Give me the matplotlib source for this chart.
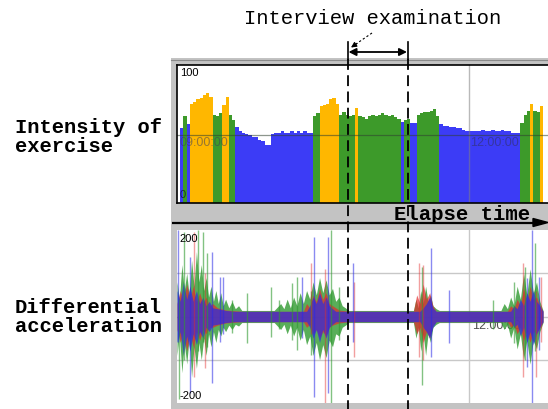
import numpy as np
import matplotlib
matplotlib.use('Agg')
from matplotlib import pyplot as plt
from matplotlib.patches import Rectangle, Polygon

W, H = 548, 409          # picture size in pixels
MONO = 'Liberation Mono'
SANS = 'Liberation Sans'
T_MAX = 230.3            # minutes shown, 0 = 09:00

# intensity of exercise, 2-minute bins from 09:00
BIN = 2
intensity = [0, 54, 63, 57, 72, 73, 75, 76, 78, 80, 77, 64, 63, 65, 71, 77, 64, 60,
             55, 52, 51, 50, 49, 48, 48, 46, 45, 42, 42, 50, 51, 51, 52, 51, 51, 52,
             51, 52, 51, 52, 51, 51, 63, 65, 70, 71, 72, 75, 76, 72, 64, 66, 64, 63,
             64, 69, 63, 62, 61, 63, 64, 63, 64, 65, 64, 63, 64, 62, 61, 59, 60, 61,
             58, 58, 64, 65, 66, 66, 67, 68, 63, 57, 56, 56, 55, 55, 54, 54, 53, 52,
             52, 52, 52, 52, 53, 52, 52, 53, 52, 52, 53, 52, 52, 51, 51, 51, 58, 64,
             67, 72, 67, 66, 70]
activity = ('bbgb' + 'y' * 7 + 'ggg' + 'yy' + 'gg' + 'b' * 24 + 'gg' + 'y' * 6 +
            'g' * 5 + 'y' + 'g' * 13 + 'b' + 'gg' + 'bb' + 'g' * 7 + 'b' * 25 +
            'ggg' + 'y' + 'gg' + 'y')
act_color = {'b': '#3c3cf6', 'g': '#3d9a2a', 'y': '#ffb700'}

# differential acceleration, outline of the dense part (minutes, upper, lower)
green_env_t = [0, 1.5, 3, 4.5, 6, 7.5, 9, 10.5, 12, 13.5, 15, 16.5, 18, 19.5, 21, 22.5,
               24, 25.5, 27, 28.5, 30, 32, 34, 36, 38, 40,
               60, 64, 66, 68, 70, 72, 74, 76, 78, 80, 82, 84, 86, 88, 90, 92, 94, 96,
               98, 100, 102, 104, 106,
               146, 147.5, 149, 150.5, 152, 153.5, 155, 156.5, 158, 160, 162,
               200, 202, 204, 206, 208, 210, 212, 214, 216, 218, 220, 222, 224, 226]
green_env_hi = [80, 40, 120, 60, 100, 50, 130, 70, 150, 80, 120, 60, 90, 45, 70, 35,
                60, 30, 55, 25, 40, 20, 35, 18, 25, 14,
                14, 30, 18, 40, 20, 45, 25, 55, 30, 60, 40, 80, 50, 90, 55, 85, 50, 65,
                35, 45, 25, 20, 14,
                14, 40, 20, 60, 30, 70, 35, 50, 25, 18, 14,
                14, 30, 18, 45, 25, 70, 40, 100, 50, 110, 55, 80, 35, 14]
green_env_lo = [-90, -40, -130, -60, -110, -50, -140, -70, -120, -60, -100, -50, -90,
                -40, -70, -35, -60, -30, -45, -25, -35, -20, -30, -18, -22, -14,
                -14, -30, -18, -40, -20, -45, -25, -55, -30, -65, -45, -90, -60, -100,
                -65, -95, -55, -70, -40, -45, -25, -20, -14,
                -14, -50, -25, -80, -40, -90, -40, -60, -25, -18, -14,
                -14, -30, -18, -50, -25, -75, -40, -100, -55, -110, -55, -75, -35, -14]
red_env_t = [0, 2, 4, 6, 8, 10, 12, 14, 16, 18, 20, 22, 25, 30, 40,
             78, 80, 82, 84, 86, 88, 90, 92, 94, 96, 100, 106,
             146, 148, 150, 152, 154, 156, 158, 160,
             204, 206, 208, 210, 212, 214, 216, 218, 220, 222, 224, 226]
red_env_hi = [30, 60, 35, 75, 40, 70, 35, 55, 30, 45, 25, 30, 20, 15, 12,
              12, 30, 20, 50, 35, 65, 40, 55, 30, 25, 15, 12,
              12, 50, 30, 75, 40, 55, 25, 12,
              12, 25, 18, 40, 25, 65, 35, 70, 40, 45, 25, 12]
red_env_lo = [-30, -60, -35, -80, -40, -70, -35, -55, -30, -40, -25, -25, -20, -15, -12,
              -12, -25, -18, -40, -30, -50, -35, -45, -25, -20, -15, -12,
              -12, -40, -25, -60, -35, -50, -20, -12,
              -12, -25, -18, -40, -25, -55, -35, -60, -35, -40, -25, -12]
blue_env_t = [0, 2, 4, 6, 8, 10, 12, 14, 16, 18, 20, 22, 25, 30, 36,
              80, 82, 84, 86, 88, 90, 92, 94, 96, 98,
              150, 152, 154, 156, 158, 160,
              206, 208, 210, 212, 214, 216, 218, 220, 222, 224, 226]
blue_env_hi = [60, 35, 80, 40, 70, 35, 60, 30, 45, 25, 35, 20, 18, 14, 12,
               12, 25, 45, 30, 55, 30, 45, 25, 18, 12,
               12, 20, 30, 45, 20, 12,
               12, 25, 18, 40, 25, 55, 35, 60, 35, 25, 12]
blue_env_lo = [-60, -35, -90, -45, -80, -40, -65, -35, -50, -25, -35, -20, -18, -14, -12,
               -12, -25, -50, -30, -60, -30, -50, -25, -18, -12,
               -12, -25, -35, -50, -25, -12,
               -12, -25, -18, -45, -25, -60, -35, -65, -40, -25, -12]

# single large spikes
green_spike_t = [1.0, 4.3, 13, 16, 18.6, 34.1, 43.4, 58, 62.7, 70.8, 74, 83, 95, 100,
                 151, 195, 208, 215, 221]
green_spike_lo = [-190, -100, -80, -60, -70, -38, -61, -47, -30, -54, -77, -90, -200,
                  -54, -158, -30, -61, -100, -80]
green_spike_hi = [40, 195, 200, 195, 147, 38, 54, 68, 38, 77, 91, 60, 200, 68, 114,
                  38, 80, 114, 170]
red_spike_t = [10.5, 17, 82.6, 91.5, 109, 149.6, 152.1, 213.5, 221.5, 224.5]
red_spike_lo = [-140, -120, -40, -200, -94, -94, -100, -140, -140, -60]
red_spike_hi = [195, 100, 124, 110, 80, 124, 120, 124, 60, 91]
blue_spike_t = [0.6, 8.1, 21.7, 26.7, 28.6, 77, 84.4, 93.1, 108.6, 157, 168.2, 216,
                219.1, 223.5]
blue_spike_lo = [-60, -177, -154, -60, -40, -50, -186, -177, -60, -94, -61, -117, -200, -77]
blue_spike_hi = [200, 138, 150, 91, 91, 91, 184, 184, 124, 158, 61, 90, 200, 91]

GREEN, RED, BLUE = '#2f9a2f', '#e42a2a', '#2a2ae6'


def px_axes(fig, x0, y0, x1, y1, **kw):
    return fig.add_axes([x0 / W, 1 - y1 / H, (x1 - x0) / W, (y1 - y0) / H], **kw)


fig = plt.figure(figsize=(W / 100, H / 100), dpi=100)

# background: grey frame and left labels
bg = px_axes(fig, 0, 0, W, H, zorder=-1)
bg.set_xlim(0, W)
bg.set_ylim(H, 0)
bg.axis('off')
bg.add_patch(Rectangle((171, 58), W - 171, H - 58, color='#c3c3c3', lw=0))
bg.plot([171, W], [60, 60], color='#8a8a8a', lw=0.8)
bg.text(15, 137, 'Intensity of\nexercise', family=MONO, weight='bold', fontsize=14.8,
        va='center', ha='left', linespacing=0.95)
bg.text(15, 317, 'Differential\nacceleration', family=MONO, weight='bold', fontsize=14.8,
        va='center', ha='left', linespacing=0.95)

# top panel
ax1 = px_axes(fig, 177, 65, W + 2, 203)
t_bins = np.arange(len(intensity)) * BIN
ax1.bar(t_bins, intensity, width=BIN * 1.03, align='edge',
        color=[act_color[a] for a in activity], lw=0)
ax1.axvline(180, color='#808080', lw=1, alpha=0.55)
ax1.axhline(49, color='#304030', lw=0.9, alpha=0.55)
ax1.set_xlim(0, T_MAX)
ax1.set_ylim(0, 100)
ax1.set_xticks([])
ax1.set_yticks([])
ax1.spines['right'].set_visible(False)
for s in ['left', 'top', 'bottom']:
    ax1.spines[s].set_linewidth(1.2)
ax1.text(1.8, 98, '100', family=SANS, fontsize=8, va='top', ha='left')
ax1.text(1.8, 2.5, '0', family=SANS, fontsize=8, va='bottom', ha='left', alpha=0.6)
ax1.text(1.8, 43.5, '09:00:00', family=SANS, fontsize=9, va='center', ha='left',
         color='#40405a', alpha=0.55)
ax1.text(180.8, 43.5, '12:00:00', family=SANS, fontsize=9, va='center', ha='left',
         color='#30305a', alpha=0.55)

# bottom panel
ax2 = px_axes(fig, 177, 230, W + 2, 403)
for v in [-100, 0, 100]:
    ax2.axhline(v, color='#c8c8c8', lw=1, zorder=0)
ax2.axvline(180, color='#c8c8c8', lw=1, zorder=0)
ax2.text(182, -22, '12:00:00', family=SANS, fontsize=9, va='center', ha='left',
         color='#505050', zorder=0.5)
ax2.fill_between(green_env_t, green_env_lo, green_env_hi, color=GREEN, lw=0, alpha=0.8)
ax2.vlines(green_spike_t, green_spike_lo, green_spike_hi, colors=GREEN, lw=1, alpha=0.6)
ax2.fill_between(red_env_t, red_env_lo, red_env_hi, color=RED, lw=0, alpha=0.7)
ax2.vlines(red_spike_t, red_spike_lo, red_spike_hi, colors=RED, lw=1, alpha=0.45)
ax2.fill_between(blue_env_t, blue_env_lo, blue_env_hi, color=BLUE, lw=0, alpha=0.7)
ax2.vlines(blue_spike_t, blue_spike_lo, blue_spike_hi, colors=BLUE, lw=1, alpha=0.55)
ax2.set_xlim(0, T_MAX)
ax2.set_ylim(-200, 200)
ax2.set_xticks([])
ax2.set_yticks([])
for s in ax2.spines.values():
    s.set_visible(False)
ax2.text(1.8, 191, '200', family=SANS, fontsize=8, va='top', ha='left')
ax2.text(1.8, -195, '-200', family=SANS, fontsize=8, va='bottom', ha='left')

# overlay: elapse-time arrow, interview window
ov = px_axes(fig, 0, 0, W, H, zorder=10)
ov.set_xlim(0, W)
ov.set_ylim(H, 0)
ov.axis('off')
ov.patch.set_visible(False)
ov.plot([172, 535], [222.5, 222.5], color='k', lw=1.6, solid_capstyle='butt')
ov.add_patch(Polygon([[533, 218.5], [533, 226.5], [548, 222.5]], closed=True, color='k'))
ov.text(394, 214, 'Elapse time', family=MONO, weight='bold', fontsize=14.9,
        va='center', ha='left')

for x in [347.5, 408]:
    ov.plot([x, x], [42, 59], color='k', lw=1.2)
    ov.plot([x, x], [59, H], color='k', lw=1.3, dashes=(6, 3))
ov.annotate('', xy=(348.5, 52), xytext=(407, 52),
            arrowprops=dict(arrowstyle='<|-|>', color='k', lw=1.3,
                            mutation_scale=11, shrinkA=0, shrinkB=0))
ov.plot([372, 356], [33, 44], color='k', lw=0.8, dashes=(2, 2))
ov.annotate('', xy=(351, 47.5), xytext=(357, 43.5),
            arrowprops=dict(arrowstyle='-|>', color='k', lw=0.8,
                            mutation_scale=8, shrinkA=0, shrinkB=0))
ov.text(373, 18.5, 'Interview examination', family=MONO, fontsize=14.8,
        va='center', ha='center')

fig.savefig('out.png', dpi=100)
